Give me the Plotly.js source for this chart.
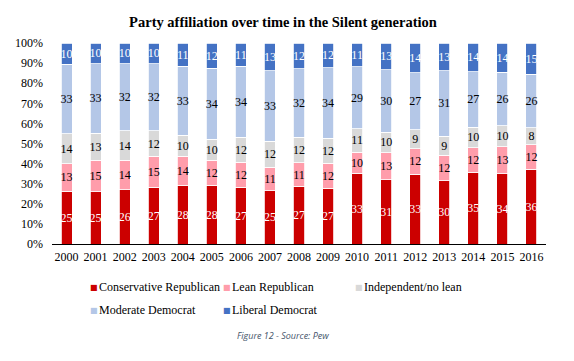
<!DOCTYPE html>
<html>
<head>
<meta charset="utf-8">
<script src="https://cdn.plot.ly/plotly-3.0.1.min.js"></script>
<style>html,body{margin:0;padding:0;background:#fff;}#chart{width:574px;height:361px;}</style>
</head>
<body>
<div id="chart"></div>
<script>
const years = ["2000","2001","2002","2003","2004","2005","2006","2007","2008","2009","2010","2011","2012","2013","2014","2015","2016"];
const conservativeRep = [25,25,26,27,28,28,27,25,27,27,33,31,33,30,35,34,36];
const leanRep        = [13,15,14,15,14,12,12,11,11,12,10,13,12,12,12,13,12];
const independent    = [14,13,14,12,10,10,12,12,12,12,11,10,9,9,10,10,8];
const moderateDem    = [33,33,32,32,33,34,34,33,32,34,29,30,27,31,27,26,26];
const liberalDem     = [10,10,10,10,11,12,11,13,12,12,11,13,14,13,14,14,15];

const seriesNames  = ["Conservative Republican","Lean Republican","Independent/no lean","Moderate Democrat","Liberal Democrat"];
const seriesValues = [conservativeRep, leanRep, independent, moderateDem, liberalDem];
const seriesColors = ["#CC0000","#FF9DAB","#D9D9D9","#B4C7E7","#4472C4"];
const textColors   = ["#FFFFFF","#000000","#000000","#000000","#FFFFFF"];

const serif = "Liberation Serif, Times New Roman, serif";

const traces = seriesNames.map((name, i) => ({
  type: "bar",
  name: name,
  x: years,
  y: seriesValues[i],
  text: seriesValues[i].map(String),
  textposition: "inside",
  insidetextanchor: "middle",
  textangle: 0,
  constraintext: "none",
  textfont: {family: serif, size: 12, color: textColors[i]},
  marker: {color: seriesColors[i], line: {color: "#FFFFFF", width: 0.8}},
  hoverinfo: "none",
  showlegend: false
}));

// legend built as text annotations
const legendPos = [
  {mx: 89, tx: 97, y: 287},
  {mx: 222, tx: 230, y: 287},
  {mx: 354, tx: 362, y: 287},
  {mx: 89, tx: 97, y: 310},
  {mx: 222, tx: 230, y: 310}
];
const plotL = 52, plotR = 546, plotT = 43, plotB = 244;
const px = v => (v - plotL) / (plotR - plotL);
const py = v => (plotB - v) / (plotB - plotT);

const annotations = [];
seriesNames.forEach((name, i) => {
  const p = legendPos[i];
  annotations.push({
    xref: "paper", yref: "paper", x: px(p.mx - 1), y: py(p.y), xanchor: "left", yanchor: "middle",
    text: "■", showarrow: false, font: {family: "DejaVu Sans", size: 8, color: seriesColors[i]}
  });
  annotations.push({
    xref: "paper", yref: "paper", x: px(p.tx), y: py(p.y), xanchor: "left", yanchor: "middle",
    text: name, showarrow: false, font: {family: serif, size: 12, color: "#000000"}
  });
});
annotations.push({
  xref: "paper", yref: "paper", x: px(283), y: py(335), xanchor: "center", yanchor: "middle",
  text: "<i>Figure 12 - Source: Pew</i>", showarrow: false,
  font: {family: "Open Sans, Liberation Sans, sans-serif", size: 9, color: "#44546A"}
});

const layout = {
  width: 574, height: 361,
  margin: {l: plotL, r: 574 - plotR, t: plotT, b: 361 - plotB, pad: 0},
  paper_bgcolor: "#FFFFFF", plot_bgcolor: "#FFFFFF",
  barmode: "stack", barnorm: "percent", bargap: 0.62,
  title: {text: "<b>Party affiliation over time in the Silent generation</b>", x: 283/574, xanchor: "center", y: 1 - 22/361, yanchor: "middle", font: {family: serif, size: 14.5, color: "#000000"}},
  xaxis: {type: "category", showline: true, linecolor: "#000000", linewidth: 1, ticks: "", showgrid: false, zeroline: false,
          tickfont: {family: serif, size: 12, color: "#000000"}, ticklabelstandoff: 2, fixedrange: true},
  yaxis: {range: [0, 100], dtick: 10, ticksuffix: "%", showgrid: false, zeroline: false, showline: false, ticks: "",
          tickfont: {family: serif, size: 12, color: "#000000"}, ticklabelstandoff: 8, fixedrange: true},
  showlegend: false,
  annotations: annotations
};

Plotly.newPlot("chart", traces, layout, {displayModeBar: false, staticPlot: true});
</script>
</body>
</html>
